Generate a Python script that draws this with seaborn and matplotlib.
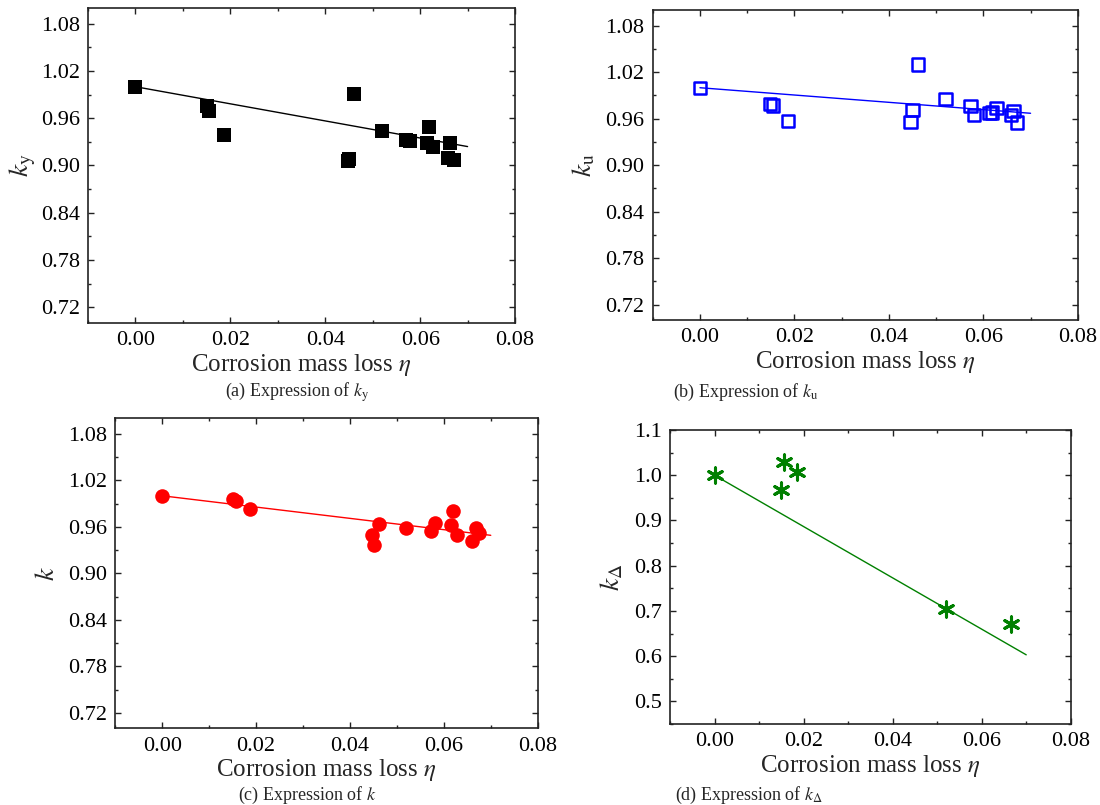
import numpy as np
import pandas as pd
import matplotlib
matplotlib.use("Agg")
import matplotlib.pyplot as plt
from matplotlib.ticker import MultipleLocator, FormatStrFormatter
import seaborn as sns

# ---------------- data ----------------
eta_a = [0.0, 0.0150, 0.0156, 0.0187, 0.0461, 0.0447, 0.0450, 0.0519, 0.0570, 0.0579,
         0.0618, 0.0614, 0.0627, 0.0664, 0.0658, 0.0672]
ky = [1.000, 0.975, 0.969, 0.939, 0.991, 0.906, 0.908, 0.944, 0.932, 0.931,
      0.949, 0.929, 0.923, 0.928, 0.909, 0.907]
fit_a_x = [0.0, 0.07]
fit_a_y = [1.000, 0.924]

eta_b = [0.0, 0.0148, 0.0155, 0.0186, 0.0461, 0.0450, 0.0446, 0.0520, 0.0573, 0.0580,
         0.0613, 0.0618, 0.0628, 0.0664, 0.0659, 0.0672]
ku = [1.000, 0.979, 0.977, 0.957, 1.030, 0.971, 0.956, 0.985, 0.976, 0.965,
      0.967, 0.968, 0.974, 0.970, 0.965, 0.955]
fit_b_x = [0.0, 0.07]
fit_b_y = [1.000, 0.967]

eta_c = [0.0, 0.0150, 0.0157, 0.0187, 0.0462, 0.0448, 0.0451, 0.0520, 0.0581, 0.0573,
         0.0619, 0.0616, 0.0629, 0.0668, 0.0675, 0.0661]
kk = [1.000, 0.996, 0.993, 0.983, 0.963, 0.949, 0.936, 0.958, 0.965, 0.955,
      0.981, 0.962, 0.949, 0.959, 0.952, 0.942]
fit_c_x = [0.0, 0.07]
fit_c_y = [1.000, 0.949]

eta_d = [0.0, 0.0155, 0.0186, 0.0149, 0.0520, 0.0665]
kd = [1.000, 1.029, 1.007, 0.968, 0.705, 0.672]
fit_d_x = [0.0, 0.07]
fit_d_y = [1.000, 0.603]

x_ticks = [0.00, 0.02, 0.04, 0.06, 0.08]
y_ticks_abc = [0.72, 0.78, 0.84, 0.90, 0.96, 1.02, 1.08]
y_ticks_d = [0.5, 0.6, 0.7, 0.8, 0.9, 1.0, 1.1]

# ---------------- style ----------------
sns.set_theme(style="ticks")
plt.rcParams["font.family"] = ["Liberation Serif", "DejaVu Serif"]
plt.rcParams["mathtext.fontset"] = "stix"
plt.rcParams["axes.linewidth"] = 1.2

fig = plt.figure(figsize=(11, 8.05), dpi=100)

positions = {
    "a": [0.080, 0.5988, 0.3882, 0.3913],
    "b": [0.5934, 0.6025, 0.3864, 0.3847],
    "c": [0.1048, 0.0953, 0.3840, 0.3851],
    "d": [0.6091, 0.1006, 0.3643, 0.3652],
}


def style_axes(ax, yticks, ylim, yminor, fmt):
    ax.set_xlim(-0.01, 0.08)
    ax.set_ylim(*ylim)
    ax.set_xticks(x_ticks)
    ax.xaxis.set_minor_locator(MultipleLocator(0.01))
    ax.set_yticks(yticks)
    ax.yaxis.set_minor_locator(MultipleLocator(yminor))
    ax.xaxis.set_major_formatter(FormatStrFormatter("%.2f"))
    ax.yaxis.set_major_formatter(FormatStrFormatter(fmt))
    ax.tick_params(which="both", direction="in", top=True, right=True,
                   labelsize=16, colors="#222222", labelcolor="black", width=1.0)
    ax.tick_params(which="major", length=4.5, pad=6)
    ax.tick_params(which="minor", length=2.5)
    for s in ax.spines.values():
        s.set_visible(True)
        s.set_color("#222222")
    ax.set_xlabel(r"Corrosion mass loss $\eta$", fontsize=18, labelpad=1)
    ax.grid(False)


# (a)
ax = fig.add_axes(positions["a"])
sns.lineplot(x=fit_a_x, y=fit_a_y, ax=ax, color="black", linewidth=1.0)
sns.scatterplot(x=eta_a, y=ky, ax=ax, marker="s", s=95, color="black",
                edgecolor="black", linewidth=0, zorder=3)
style_axes(ax, y_ticks_abc, (0.70, 1.10), 0.03, "%.2f")
ax.set_ylabel(r"$k_\mathrm{y}$", fontsize=20, labelpad=2)

# (b)
ax = fig.add_axes(positions["b"])
sns.lineplot(x=fit_b_x, y=fit_b_y, ax=ax, color="blue", linewidth=1.0)
sns.scatterplot(x=eta_b, y=ku, ax=ax, marker="s", s=78, facecolor="none",
                edgecolor="blue", linewidth=1.8, zorder=3)
style_axes(ax, y_ticks_abc, (0.70, 1.10), 0.03, "%.2f")
ax.set_ylabel(r"$k_\mathrm{u}$", fontsize=20, labelpad=6)

# (c)
ax = fig.add_axes(positions["c"])
sns.lineplot(x=fit_c_x, y=fit_c_y, ax=ax, color="red", linewidth=1.0)
sns.scatterplot(x=eta_c, y=kk, ax=ax, marker="o", s=110, color="red",
                edgecolor="red", linewidth=0, zorder=3)
style_axes(ax, y_ticks_abc, (0.70, 1.10), 0.03, "%.2f")
ax.set_ylabel(r"$k$", fontsize=20, labelpad=6)

# (d)
ax = fig.add_axes(positions["d"])
sns.lineplot(x=fit_d_x, y=fit_d_y, ax=ax, color="green", linewidth=1.0)
sns.scatterplot(x=eta_d, y=kd, ax=ax, marker=(6, 2, 0), s=120, color="green",
                edgecolor="green", linewidth=2.2, zorder=3)
style_axes(ax, y_ticks_d, (0.45, 1.10), 0.05, "%.1f")
ax.set_ylabel(r"$k_\Delta$", fontsize=20, labelpad=6)

# captions
fig.text(0.27, 0.513, r"(a) Expression of $k_\mathrm{y}$", fontsize=13, ha="center", va="center")
fig.text(0.612, 0.513, r"(b) Expression of $k_\mathrm{u}$", fontsize=13, ha="left", va="center")
fig.text(0.279, 0.0124, r"(c) Expression of $k$", fontsize=13, ha="center", va="center")
fig.text(0.614, 0.0124, r"(d) Expression of $k_\Delta$", fontsize=13, ha="left", va="center")

fig.savefig("out.png", dpi=100, facecolor="white")
